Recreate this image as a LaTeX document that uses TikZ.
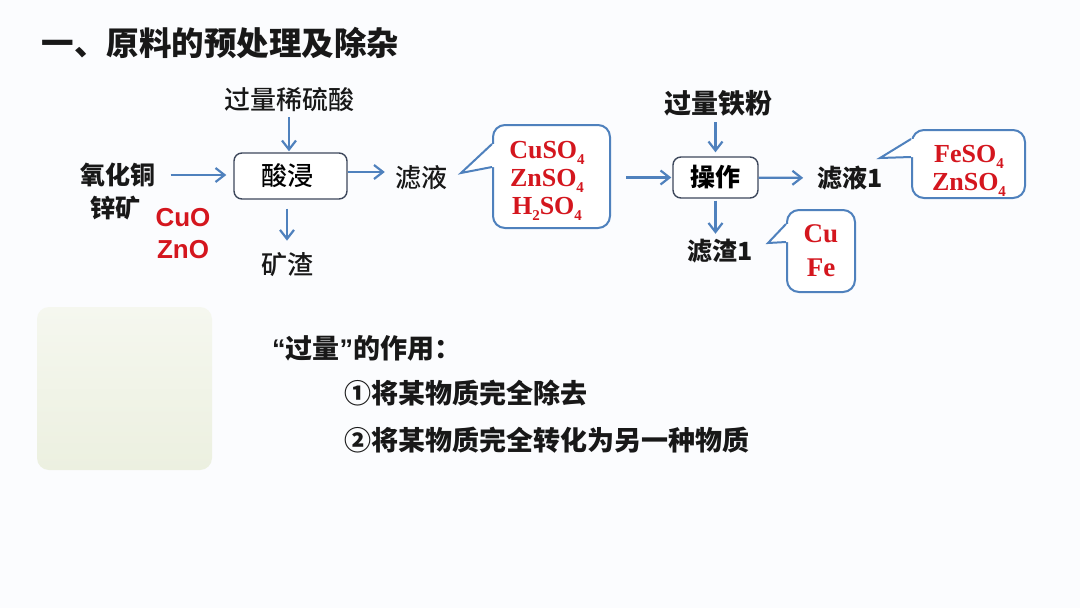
\documentclass[tikz,border=0pt]{standalone}
\usepackage{fontspec}
\setmainfont{Noto Sans CJK SC}
\newfontfamily\cjkmid{Noto Sans CJK SC}[UprightFont=* Medium]
\newfontfamily\latinsans{Liberation Sans}
\newfontfamily\latinserif{Liberation Serif}
\usetikzlibrary{arrows.meta, positioning, calc}
\definecolor{AB}{RGB}{79,129,189}
\definecolor{BL}{RGB}{62,72,92}
\definecolor{CR}{RGB}{212,22,30}
\definecolor{TX}{RGB}{24,24,24}
\definecolor{PG}{RGB}{236,240,224}
\definecolor{PL}{RGB}{245,247,239}
\definecolor{BG}{RGB}{251,252,254}
\newcommand\chemsub[1]{\raisebox{-0.45ex}{\fontsize{15}{15}\selectfont #1}}

\begin{document}
\begin{tikzpicture}[x=1pt, y=-1pt,
  title/.style={font=\bfseries\fontsize{32.5}{36}\selectfont, text=TX, anchor=west},
  lbl/.style={font=\bfseries\fontsize{25}{28}\selectfont, text=TX, inner sep=2pt},
  mlbl/.style={font=\cjkmid\fontsize{26}{28}\selectfont, text=TX, inner sep=2pt},
  oxide/.style={font=\latinsans\bfseries\fontsize{26}{28}\selectfont, text=CR, inner sep=1pt},
  proc/.style={draw=BL, line width=1.4pt, rounded corners=8pt, fill=white,
               minimum width=#1, minimum height=44pt, inner sep=0pt},
  callbox/.style={draw=AB, line width=2pt, rounded corners=12pt, fill=white, inner sep=0pt},
  chem/.style={align=center, inner sep=0pt, text=CR,
               font=\latinserif\bfseries\fontsize{26}{28}\selectfont},
  cline/.style={draw=AB, line width=2pt, line join=miter},
  arr/.style={-{Straight Barb[length=9pt, width=14pt]}, line width=2.2pt, draw=AB},
  note/.style={font=\bfseries\fontsize{27}{30}\selectfont, text=TX, anchor=west, inner sep=0pt}
]
\fill[BG] (0,0) rectangle (1080,608);
\useasboundingbox (0,0) rectangle (1080,608);

\node[title] (ttl) at (38,43) {一、原料的预处理及除杂};

% Acid leaching
\node[lbl]  (ore1) at (118,175) {氧化铜};
\node[lbl]  (ore2) at (115,208) {锌矿};
\node[oxide] (cuo) at (183,218) {CuO};
\node[oxide] (zno) at (183,250) {ZnO};
\node[mlbl] (acid) at (289,100) {过量稀硫酸};
\node[proc=113pt, minimum height=46pt, font=\cjkmid\fontsize{26}{28}\selectfont] (jin) at (290.5,176) {酸浸\hspace*{6pt}};
\node[mlbl] (slag) at (287,265) {矿渣};
\node[mlbl] (filt) at (421,178) {滤液};

\draw[arr, shorten <=13pt, shorten >=7pt] (ore1) -- (ore1 -| jin.west);
\draw[arr, shorten <=3pt, shorten >=1pt] (acid) -- (acid |- jin.north);
\draw[arr, shorten <=9pt, shorten >=10pt] (slag |- jin.south) -- (slag);
\draw[arr, shorten >=8pt] (jin.east |- 0,172) -- (filt.west |- 0,172);

% Callout after leaching
\node[callbox, minimum width=117pt, minimum height=103pt] (cb1) at (551.5,176.5) {};
\node[chem] (cb1t) at (547,181) {CuSO\chemsub{4}\\ZnSO\chemsub{4}\\H\chemsub{2}SO\chemsub{4}};
\coordinate (t1) at (461,173);
\coordinate (p1a) at ($(cb1.north west)+(0,20)$);
\coordinate (p1b) at ($(cb1.north west)+(0,43)$);
\fill[white] (p1a) -- (t1) -- (p1b) -- ($(p1b)+(3,0)$) -- ($(p1a)+(3,0)$) -- cycle;
\draw[cline] (p1a) -- (t1) -- (p1b);

% Iron powder step
\node[lbl, font=\bfseries\fontsize{27}{30}\selectfont] (iron) at (718,103) {过量铁粉};
\node[proc=85pt, minimum height=41pt, font=\bfseries\fontsize{25}{28}\selectfont] (op) at (715.5,177.5) {操作};
\node[lbl] (filt1) at (850,178) {滤液1};
\node[lbl] (res1)  at (720,251) {滤渣1};

\draw[arr, shorten <=15pt, shorten >=1pt] (cb1.east |- op) -- (op);
\draw[arr, shorten <=4pt, shorten >=4pt] (iron.south -| op) -- (op);
\draw[arr, shorten >=12pt] (op) -- (filt1);
\draw[arr, shorten <=2pt, shorten >=3pt] (op.south) -- (op.south |- res1.north);

\node[callbox, minimum width=113pt, minimum height=68pt] (cb2) at (968.5,164) {};
\node[chem] (cb2t) at (969,171) {FeSO\chemsub{4}\\ZnSO\chemsub{4}};
\coordinate (t2) at (880,158);
\coordinate (p2a) at ($(cb2.north west)+(0,10)$);
\coordinate (p2b) at ($(cb2.north west)+(0,28)$);
\fill[white] (p2a) -- (t2) -- (p2b) -- ($(p2b)+(3,0)$) -- ($(p2a)+(3,0)$) -- cycle;
\draw[cline] (p2a) -- (t2) -- (p2b);

\node[callbox, minimum width=68pt, minimum height=82pt] (cb3) at (821,251) {};
\node[chem, font=\latinserif\bfseries\fontsize{27}{34}\selectfont] (cb3t) at (821,251) {Cu\\Fe};
\coordinate (t3) at (768,243);
\coordinate (p3a) at ($(cb3.north west)+(0,15)$);
\coordinate (p3b) at ($(cb3.north west)+(0,33)$);
\fill[white] (p3a) -- (t3) -- (p3b) -- ($(p3b)+(3,0)$) -- ($(p3a)+(3,0)$) -- cycle;
\draw[cline] (p3a) -- (t3) -- (p3b);

% Picture placeholder and notes
\node[rounded corners=12pt, top color=PL, bottom color=PG, minimum width=175pt,
      minimum height=163pt, inner sep=0pt] (photo) at (124.5,388.5) {};
\node[note] (why) at (272,348) {{\latinsans\bfseries “}过量{\latinsans\bfseries ”}的作用：};
\node[note] (use1) at (344,393) {①将某物质完全除去};
\node[note] (use2) at (344,440) {②将某物质完全转化为另一种物质};
\end{tikzpicture}
\end{document}
